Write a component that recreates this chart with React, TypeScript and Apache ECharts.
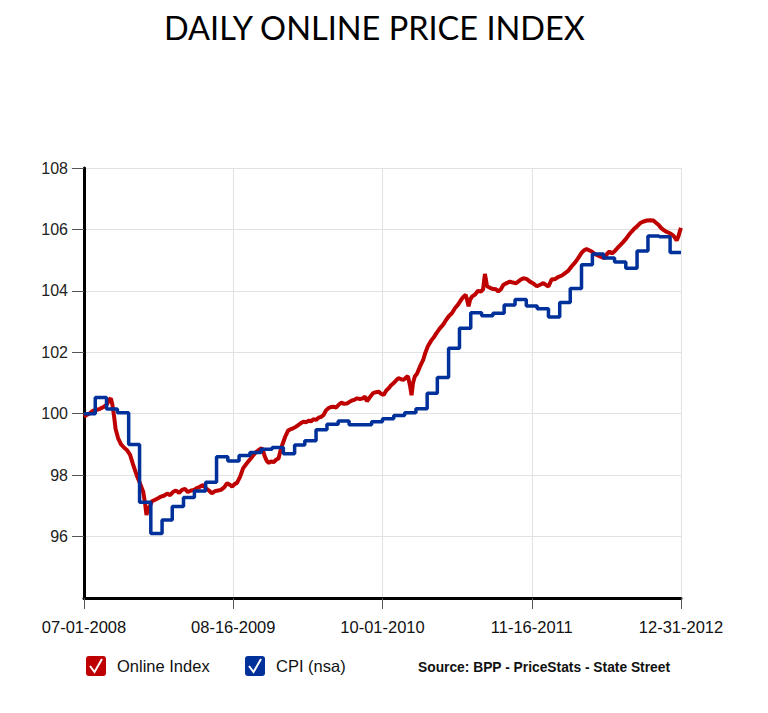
import React, { useEffect, useRef } from "react";
import * as echarts from "echarts";

// Tick labels for the x axis (every 411 days from 2008-07-01)
const xTickLabels = ["07-01-2008", "08-16-2009", "10-01-2010", "11-16-2011", "12-31-2012"];
const X_INTERVAL = 411;
const X_MAX = 1644;
// Labelled y-axis ticks (the 94 floor carries no tick or label)
const yTickValues = [96, 98, 100, 102, 104, 106, 108];

// Online Index: day offset from 2008-07-01 and value
const onlineDays = [
  0, 6, 14, 25, 33, 44, 55, 63, 69, 74, 78, 83, 87, 94, 102, 110, 118, 127, 135, 145,
  154, 163, 168, 172, 176, 182, 187, 196, 204, 212, 220, 229, 237, 245, 253, 262, 270, 278, 286, 295,
  303, 311, 319, 328, 336, 344, 352, 361, 369, 377, 386, 394, 402, 408, 416, 421, 430, 438, 446, 452,
  460, 467, 474, 481, 489, 493, 498, 504, 509, 515, 522, 529, 536, 540, 545, 554, 562, 570, 577, 584,
  591, 598, 604, 611, 620, 625, 632, 639, 646, 653, 660, 666, 673, 680, 687, 694, 702, 709, 716, 724,
  733, 738, 746, 752, 760, 768, 774, 779, 788, 796, 804, 811, 818, 825, 832, 839, 845, 852, 859, 866,
  873, 880, 887, 892, 898, 902, 906, 911, 917, 925, 934, 939, 947, 956, 964, 972, 980, 989, 997, 1005,
  1013, 1022, 1030, 1038, 1045, 1051, 1055, 1059, 1063, 1068, 1077, 1085, 1093, 1099, 1104, 1110, 1118, 1127, 1135, 1141,
  1148, 1155, 1164, 1173, 1181, 1190, 1201, 1210, 1220, 1228, 1236, 1247, 1256, 1265, 1274, 1279, 1288, 1297, 1305, 1316,
  1325, 1333, 1343, 1352, 1360, 1371, 1377, 1384, 1391, 1398, 1404, 1412, 1421, 1429, 1435, 1440, 1447, 1454, 1462, 1471,
  1476, 1484, 1493, 1499, 1508, 1515, 1523, 1531, 1539, 1550, 1559, 1568, 1575, 1582, 1589, 1595, 1603, 1609, 1617, 1623,
  1628, 1632, 1637, 1641, 1644,
];
const onlineValues = [
  99.9, 99.95, 100.0, 100.1, 100.12, 100.16, 100.23, 100.3, 100.45, 100.5, 100.3, 99.9, 99.5, 99.2, 99.0, 98.9, 98.82, 98.66, 98.35, 98.0,
  97.74, 97.46, 97.1, 96.7, 96.9, 97.0, 97.15, 97.2, 97.25, 97.3, 97.33, 97.4, 97.35, 97.45, 97.5, 97.42, 97.52, 97.55, 97.45, 97.5,
  97.52, 97.58, 97.62, 97.68, 97.57, 97.5, 97.41, 97.48, 97.5, 97.52, 97.6, 97.74, 97.68, 97.63, 97.72, 97.74, 97.95, 98.22, 98.35, 98.44,
  98.55, 98.66, 98.75, 98.82, 98.88, 98.8, 98.6, 98.45, 98.4, 98.45, 98.42, 98.5, 98.55, 98.75, 98.95, 99.25, 99.45, 99.5, 99.53, 99.58,
  99.64, 99.7, 99.74, 99.72, 99.78, 99.75, 99.82, 99.8, 99.87, 99.9, 99.96, 100.1, 100.18, 100.22, 100.23, 100.2, 100.3, 100.36, 100.32, 100.33,
  100.4, 100.43, 100.46, 100.5, 100.48, 100.5, 100.56, 100.4, 100.55, 100.67, 100.7, 100.72, 100.65, 100.61, 100.75, 100.83, 100.92, 100.99, 101.08, 101.16,
  101.12, 101.1, 101.18, 101.22, 100.9, 100.6, 101.0, 101.21, 101.3, 101.53, 101.75, 101.95, 102.2, 102.38, 102.5, 102.65, 102.78, 102.9, 103.05, 103.18,
  103.27, 103.44, 103.55, 103.7, 103.81, 103.87, 103.7, 103.5, 103.7, 103.81, 103.88, 104.0, 103.98, 104.05, 104.55, 104.15, 104.1, 104.06, 104.05, 103.98,
  104.05, 104.2, 104.25, 104.3, 104.27, 104.25, 104.35, 104.41, 104.38, 104.3, 104.25, 104.15, 104.2, 104.25, 104.18, 104.14, 104.38, 104.38, 104.45, 104.5,
  104.58, 104.65, 104.8, 104.92, 105.05, 105.25, 105.32, 105.36, 105.32, 105.28, 105.22, 105.17, 105.12, 105.08, 105.07, 105.2, 105.28, 105.22, 105.3, 105.42,
  105.48, 105.58, 105.7, 105.8, 105.93, 106.02, 106.1, 106.2, 106.25, 106.29, 106.3, 106.29, 106.22, 106.15, 106.05, 105.99, 105.93, 105.9, 105.85, 105.8,
  105.72, 105.64, 105.78, 105.95, 106.05,
];

// CPI (nsa): monthly values, July 2008 .. December 2012
const cpiValues = [
  100.0, 100.53, 100.15, 100.03, 99.0, 97.12,
  96.1, 96.54, 96.98, 97.27, 97.48, 97.77, 98.6, 98.46, 98.64, 98.74, 98.84, 98.9,
  98.7, 98.98, 99.12, 99.48, 99.66, 99.76, 99.64, 99.64, 99.74, 99.84, 99.94, 100.03,
  100.16, 100.67, 101.18, 102.13, 102.78, 103.29, 103.19, 103.27, 103.54, 103.72, 103.51, 103.42,
  103.15, 103.62, 104.08, 104.85, 105.2, 105.07, 104.94, 104.74, 105.3, 105.79, 105.76, 105.25,
];

const RED = "#bf0000";
const BLUE = "#00309a";
const FONT = "'Liberation Sans', Arial, Helvetica, sans-serif";

function buildCpi() {
  const start = Date.UTC(2008, 6, 1);
  const pts: [number, number][] = cpiValues.map((v, i) => [
    Math.round((Date.UTC(2008, 6 + i, 1) - start) / 86400000),
    v,
  ]);
  pts.push([X_MAX, cpiValues[cpiValues.length - 1]]);
  return pts;
}

function legendItem(x: number, color: string, label: string) {
  return [
    {
      type: "rect",
      shape: { x, y: 656, width: 20, height: 20, r: 3 },
      style: { fill: color },
    },
    {
      type: "polyline",
      shape: { points: [[x + 4, 666], [x + 8.5, 672], [x + 16, 659]] },
      style: { stroke: "#fff", lineWidth: 2, fill: null },
    },
    {
      type: "text",
      x: x + 31,
      y: 666,
      style: {
        text: label,
        fill: "#111",
        font: `16.5px ${FONT}`,
        verticalAlign: "middle",
      },
    },
  ];
}

export default function App() {
  const ref = useRef<HTMLDivElement>(null);
  useEffect(() => {
    if (!ref.current) return;
    const chart = echarts.init(ref.current, null, { renderer: "svg" });
    const online = onlineDays.map((d, i) => [d, onlineValues[i]]);
    chart.setOption({
      animation: false,
      backgroundColor: "#ffffff",
      title: {
        text: "DAILY ONLINE PRICE INDEX",
        left: 159,
        top: 6,
        textStyle: { fontFamily: "Lato, 'Open Sans', sans-serif", fontWeight: "normal", fontSize: 32.5, color: "#000" },
      },
      grid: { left: 84, right: 87, top: 168, bottom: 115, containLabel: false },
      xAxis: {
        type: "value",
        min: 0,
        max: X_MAX,
        interval: X_INTERVAL,
        axisLine: { show: true, lineStyle: { color: "#000", width: 3 } },
        axisTick: { show: true, length: 11, lineStyle: { color: "#555", width: 1 } },
        axisLabel: {
          margin: 20,
          fontSize: 16.5,
          fontFamily: FONT,
          color: "#111",
          formatter: (v: number) => xTickLabels[Math.round(v / X_INTERVAL)] ?? "",
        },
        splitLine: { show: true, lineStyle: { color: "#e2e2e2", width: 1 } },
      },
      yAxis: {
        type: "value",
        min: 94,
        max: 108,
        interval: 2,
        axisLine: { show: true, lineStyle: { color: "#000", width: 3 } },
        axisTick: { show: true, length: 12, customValues: yTickValues, lineStyle: { color: "#555", width: 1 } },
        axisLabel: {
          margin: 16,
          fontSize: 16,
          fontFamily: FONT,
          color: "#222",
          customValues: yTickValues,
          formatter: (v: number) => String(v),
        },
        splitLine: { show: true, lineStyle: { color: "#e2e2e2", width: 1 } },
      },
      series: [
        {
          name: "Online Index",
          type: "line",
          data: online,
          showSymbol: false,
          symbol: "none",
          lineStyle: { color: RED, width: 4 },
          itemStyle: { color: RED },
          z: 2,
        },
        {
          name: "CPI (nsa)",
          type: "line",
          step: "end",
          data: buildCpi(),
          showSymbol: false,
          symbol: "none",
          lineStyle: { color: BLUE, width: 3.5 },
          itemStyle: { color: BLUE },
          z: 3,
        },
      ],
      graphic: [
        ...legendItem(86, RED, "Online Index"),
        ...legendItem(245, BLUE, "CPI (nsa)"),
        {
          type: "text",
          x: 418,
          y: 667,
          style: {
            text: "Source: BPP - PriceStats - State Street",
            fill: "#111",
            font: `bold 13.8px ${FONT}`,
            verticalAlign: "middle",
          },
        },
      ],
    });
    return () => chart.dispose();
  }, []);
  return (
    <div
      ref={ref}
      style={{ position: "absolute", left: 0, top: 0, width: 768, height: 713 }}
    />
  );
}
